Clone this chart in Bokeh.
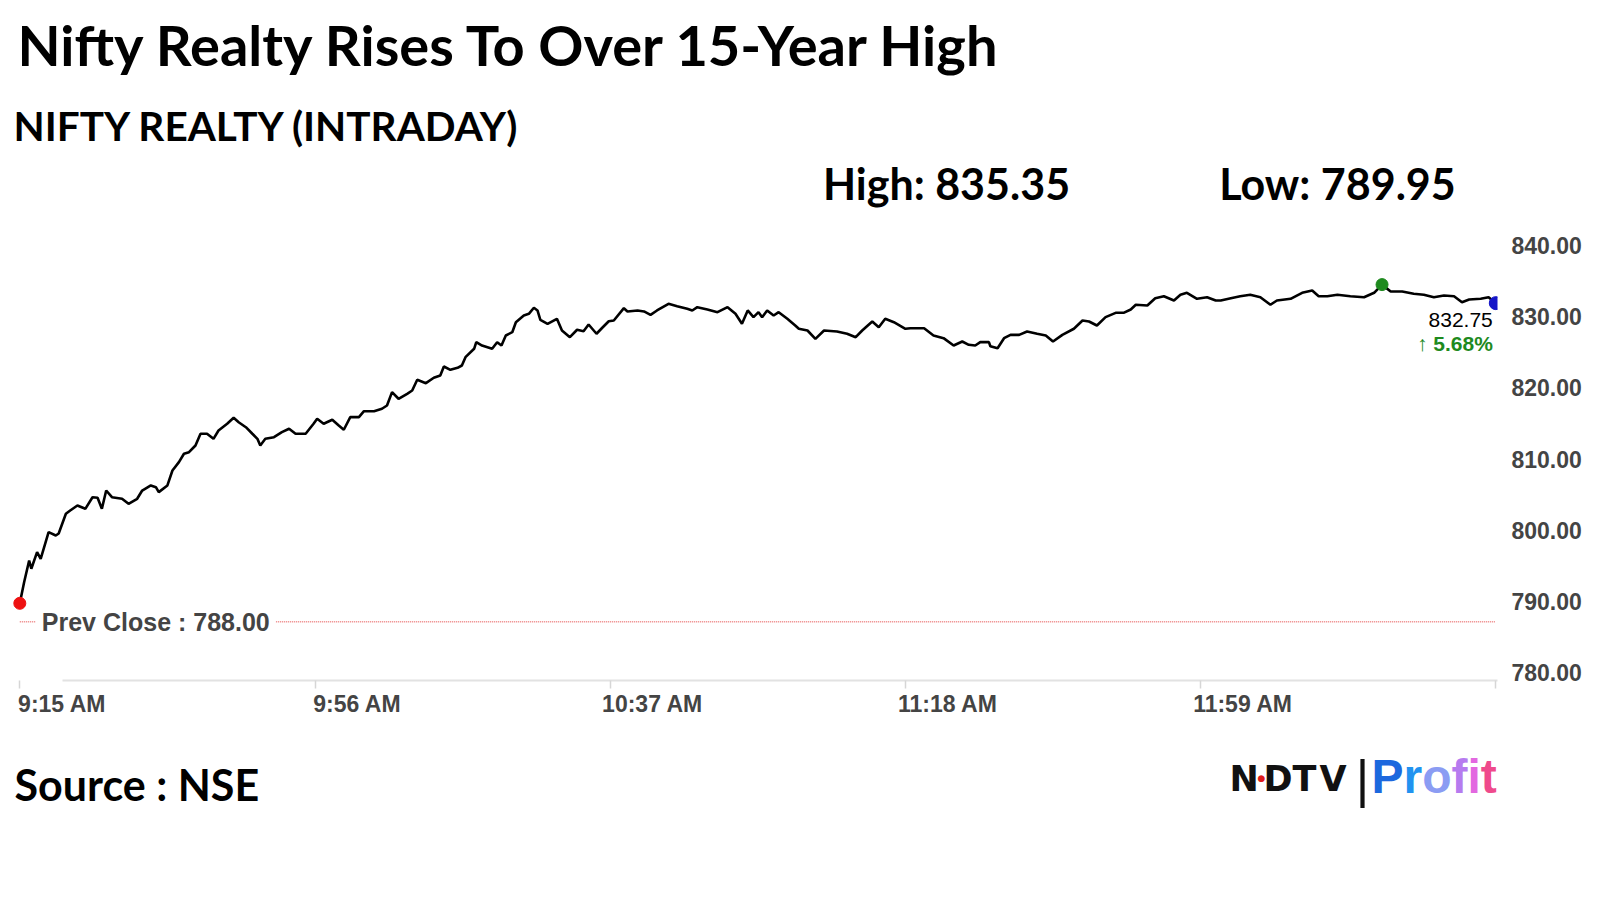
from bokeh.plotting import figure
from bokeh.layouts import column
from bokeh.models import Range1d, LinearAxis, FixedTicker, Label, NumeralTickFormatter
from bokeh.embed import file_html
from bokeh.resources import INLINE

# ---------------- data (minutes since 9:15 AM, index level) ----------------
minutes = [
    0, 0.6, 1.3, 1.6, 2.4, 2.9, 4.0, 5.0, 5.4, 6.4, 7.0, 8.0, 9.1, 10.1, 10.8, 11.4, 12.0, 12.8,
    14.2, 15.1, 16.3, 17.0, 18.2, 18.9, 19.3, 20.5, 21.2, 22.1, 22.8, 23.5, 24.4, 25.1, 26.0, 26.9,
    27.6, 28.8, 29.7, 30.4, 31.4, 32.3, 33.0, 33.4, 34.1, 35.3, 36.4, 37.4, 38.3, 39.7, 40.8,
    41.3, 42.2, 43.4, 44.3, 45.0, 45.9, 47.1, 47.8, 49.2, 50.3, 51.0, 51.7, 52.6, 53.8, 54.5, 55.2,
    56.4, 57.5, 58.4, 58.9, 59.8, 60.8, 61.4, 61.9, 63.1, 63.4, 64.2, 65.6, 66.3, 66.9, 67.5, 68.4,
    68.9, 70.0, 70.7, 71.4, 71.9, 72.3, 73.3, 74.6, 75.3, 76.4, 77.4, 78.3, 79.0, 80.1, 80.9, 81.8, 82.5,
    83.9, 84.4, 85.8, 86.7, 87.6, 88.5, 90.1, 91.3, 92.7, 93.4, 94.1, 95.5, 96.9, 98.3, 99.4, 100.3,
    101.1, 101.9, 102.6, 103.1, 103.8, 104.7, 105.4, 106.6, 107.7, 108.2, 109.4, 110.5, 111.7, 113.5,
    114.9, 116.1, 117.0, 118.4, 119.3, 120.2, 121.4, 123.0, 123.7,
    125.6, 126.9, 128.3, 129.7, 130.9, 131.8, 132.7, 133.4, 134.6, 134.8, 135.8, 136.7, 137.6, 138.8,
    139.9, 141.3, 142.5, 143.5, 144.8, 146.4, 147.6, 148.5, 149.6, 150.8, 152.2, 153.3, 154.3, 155.0,
    156.6, 157.7, 158.9, 160.3, 161.2, 162.1, 163.5, 164.9, 166.1,
    166.8, 168.2, 169.5, 170.9, 172.3, 173.7, 174.6, 176.5, 178.1, 179.5, 180.4, 181.6, 183.0, 184.8,
    186.7, 188.1, 189.2, 190.4, 192.0, 193.6, 195.0, 196.4, 197.8, 199.2, 200.3, 201.3, 202.9, 204.0, 205.0,
]
prices = [
    790.60, 793.57, 796.62, 795.45, 797.78, 796.85, 800.59, 800.13, 800.41, 803.17, 803.64, 804.34,
    803.87, 805.50, 805.42, 803.87, 806.44, 805.50, 805.28, 804.58, 805.28, 806.44, 807.15, 806.91,
    806.21, 807.15, 809.25, 810.42, 811.60, 811.82, 812.76, 814.41, 814.41, 813.70, 814.87, 815.81,
    816.65, 816.03, 815.33, 814.41, 813.70, 812.76, 813.70, 813.93, 814.63, 815.11, 814.41, 814.41, 815.81,
    816.51, 815.81, 816.37, 815.57, 814.97, 816.74, 816.74, 817.58, 817.58, 817.92, 818.38, 820.25,
    819.32, 820.02, 820.48, 821.99, 821.51, 822.27, 822.59, 823.85, 823.39, 823.67, 823.99, 825.16,
    826.34, 827.27, 826.80, 826.34, 827.27, 826.80, 828.21, 828.67, 830.07, 831.01, 831.25, 832.10,
    831.72, 830.41, 829.85, 830.55, 828.91, 827.97, 829.01, 828.81, 829.75, 828.45, 829.29, 830.21, 830.31,
    832.04, 831.58, 831.72, 831.58, 831.11, 831.72, 832.66, 832.32, 831.96, 831.72, 832.18, 831.86,
    831.48, 832.18, 831.25, 829.85, 831.72, 830.78, 831.48, 830.78, 831.72, 831.01, 831.48, 830.55,
    829.61, 829.15, 828.91, 827.74, 828.91, 828.77, 828.45, 827.97, 828.91, 830.17, 829.37, 830.55,
    830.07, 829.15, 829.23,
    829.23, 828.21, 827.83, 826.80, 827.36, 826.90, 826.80, 827.27, 827.27, 826.70, 826.42, 827.83,
    828.30, 828.30, 828.77, 828.45, 828.21, 827.36, 828.30, 829.15, 830.31, 830.17, 829.61, 830.78,
    831.39, 831.39, 831.86, 832.52, 832.42, 833.44, 833.72, 833.12, 833.92, 834.20, 833.36, 833.58, 833.12,
    833.12, 833.44, 833.72, 833.92, 833.58, 832.52, 833.12, 833.36, 834.20, 834.52, 833.72, 833.72,
    833.92, 833.72, 833.58, 834.20, 835.35, 834.38, 834.38, 834.06, 833.92, 833.58, 833.82, 833.72,
    832.88, 833.26, 833.36, 833.58, 832.75,
]
tick_minutes = [0, 41, 82, 123, 164, 205]
tick_labels = ["9:15 AM", "9:56 AM", "10:37 AM", "11:18 AM", "11:59 AM"]
price_ticks = [780, 790, 800, 810, 820, 830, 840]
prev_close = 788.00
day_high = 835.35
day_low = 789.95
last_price = prices[-1]
change_pct = (last_price - prev_close) / prev_close * 100

title_text = "Nifty Realty Rises To Over 15-Year High"
subtitle_text = "NIFTY REALTY (INTRADAY)"
source_text = "Source : NSE"

# ---------------- layout constants (page pixels) ----------------
OFF = 8
FRAME_W, FRAME_H = 1489, 672
PX_MIN = 7.2        # px per minute
PX_UNIT = 7.122     # px per index point
x_start = -(19.3 - OFF) / PX_MIN
y_end = 840 + (251 - OFF) / PX_UNIT
x_range = Range1d(x_start, x_start + FRAME_W / PX_MIN)
y_range = Range1d(y_end - FRAME_H / PX_UNIT, y_end)
FRAME_BOTTOM = OFF + FRAME_H
MAIN_H = FRAME_BOTTOM + 70
TOTAL_W = OFF + FRAME_W + 90
FOOT_H = 130

p = figure(frame_width=FRAME_W, frame_height=FRAME_H, x_range=x_range, y_range=y_range,
           output_backend="svg", toolbar_location=None, x_axis_location=None,
           y_axis_location=None, min_border_left=OFF, min_border_top=OFF,
           min_border_right=90, min_border_bottom=70)
p.xgrid.visible = False
p.ygrid.visible = False
p.outline_line_color = None
p.background_fill_color = "white"
p.border_fill_color = "white"

# right price axis (labels sit slightly above their level)
lab_shift_y = 6.0 / PX_UNIT
p.extra_y_ranges = {"ylab": Range1d(y_range.start - lab_shift_y, y_range.end - lab_shift_y)}
yax = LinearAxis(y_range_name="ylab", ticker=FixedTicker(ticks=price_ticks),
                 formatter=NumeralTickFormatter(format="0.00"),
                 axis_line_color=None, major_tick_line_color=None, minor_tick_line_color=None,
                 major_tick_out=0, major_tick_in=0, major_label_standoff=14,
                 major_label_text_font="Liberation Sans", major_label_text_font_style="bold",
                 major_label_text_font_size="23px", major_label_text_color="#444444")
p.add_layout(yax, "right")

# time axis: ticks + line
lab_shift_x = 42.4 / PX_MIN
xa = LinearAxis(ticker=FixedTicker(ticks=tick_minutes), bounds=(lab_shift_x, x_range.end),
                major_label_overrides={t: "" for t in tick_minutes},
                axis_line_color="#e2e2e2", axis_line_width=2,
                major_tick_line_color="#d6d6d6", major_tick_line_width=1.5,
                major_tick_out=8, major_tick_in=0, minor_tick_line_color=None,
                major_label_standoff=0, major_label_text_font_size="10px")
p.add_layout(xa, "below")
# time axis labels
p.extra_x_ranges = {"xlab": Range1d(x_range.start - lab_shift_x, x_range.end - lab_shift_x)}
xb = LinearAxis(x_range_name="xlab", ticker=FixedTicker(ticks=tick_minutes[:-1]),
                major_label_overrides=dict(zip(tick_minutes[:-1], tick_labels)),
                axis_line_color=None, major_tick_line_color=None, minor_tick_line_color=None,
                major_tick_out=0, major_tick_in=0, major_label_standoff=2,
                major_label_text_font="Liberation Sans", major_label_text_font_style="bold",
                major_label_text_font_size="23px", major_label_text_color="#444444")
p.add_layout(xb, "below")

# previous close dotted line
p.line(x=[minutes[0], minutes[-1]], y=[prev_close, prev_close], line_color="#e23b3b",
       line_width=1, line_dash="1 1")
p.add_layout(Label(x=minutes[0], y=prev_close, x_offset=16, text=f"Prev Close : {prev_close:.2f}",
                   text_font="Liberation Sans", text_font_style="bold", text_font_size="25px",
                   text_color="#444444", text_baseline="middle", text_align="left",
                   background_fill_color="white", padding=6))

# price line
p.line(minutes, prices, line_color="black", line_width=2.6)

# markers
hi_i = prices.index(max(prices))
p.scatter([minutes[0]], [prices[0]], size=12, color="#ee1111")
p.scatter([minutes[hi_i]], [prices[hi_i]], size=12, color="#1e8a1e")
p.scatter([minutes[-1]], [prices[-1]], size=13, color="#1515c8")

p.add_layout(Label(x=minutes[-1], y=last_price, x_offset=-3, y_offset=-16.5,
                   text=f"{last_price:.2f}", text_font="Liberation Sans", text_font_size="21px",
                   text_color="black", text_align="right", text_baseline="middle"))
p.add_layout(Label(x=minutes[-1], y=last_price, x_offset=-3, y_offset=-40,
                   text=f"\u2191 {change_pct:.2f}%", text_font="Liberation Sans",
                   text_font_style="bold", text_font_size="21px",
                   text_color="#1e8a1e", text_align="right", text_baseline="middle"))


def add_text(fig, bottom, text, X, Y, size, font="Lato", style="bold", color="black", align="left"):
    # X, Y are page pixels; both figures' frames start at page x = OFF
    fig.add_layout(Label(x=X - OFF, y=bottom - Y, x_units="screen",
                         y_units="screen", text=text, text_font=font, text_font_style=style,
                         text_font_size=f"{size}px", text_color=color,
                         text_align=align, text_baseline="middle"))


add_text(p, FRAME_BOTTOM, title_text, 17, 44, 56)
add_text(p, FRAME_BOTTOM, subtitle_text, 13, 125, 40.5)
add_text(p, FRAME_BOTTOM, f"High: {day_high:.2f}", 946, 183, 43, align="center")
add_text(p, FRAME_BOTTOM, f"Low: {day_low:.2f}", 1337, 183, 43, align="center")

# ---------------- footer figure (source + logo) ----------------
f = figure(width=TOTAL_W, height=FOOT_H, x_range=Range1d(0, 1), y_range=Range1d(0, 1),
           output_backend="svg", toolbar_location=None, x_axis_location=None,
           y_axis_location=None, min_border=0)
f.xgrid.visible = False
f.ygrid.visible = False
f.outline_line_color = None
f.background_fill_color = "white"
f.border_fill_color = "white"
FOOT_BOTTOM = MAIN_H + FOOT_H

add_text(f, FOOT_BOTTOM, source_text, 14, 784, 43)
ndtv_x = [1229, 1263, 1292, 1319]
for ch, X in zip("NDTV", ndtv_x):
    add_text(f, FOOT_BOTTOM, ch, X, 778, 35, font="DejaVu Sans", color="#111111")
add_text(f, FOOT_BOTTOM, "\u25CF", 1261, 777, 9, font="DejaVu Sans", style="normal",
         color="#e01b1b", align="center")
add_text(f, FOOT_BOTTOM, "|", 1362, 778, 52, font="Liberation Sans", style="normal",
         color="#111111", align="center")
profit_colors = ["#1c68de", "#2193f0", "#8b9cf3", "#b67bef", "#e268e0", "#ef4a8c"]
profit_widths = [0.667, 0.389, 0.611, 0.333, 0.278, 0.333]
px = 1371
for ch, col, w in zip("Profit", profit_colors, profit_widths):
    add_text(f, FOOT_BOTTOM, ch, px, 776, 48, font="Liberation Sans", color=col)
    px += w * 48

open("out.html", "w").write(file_html(column(p, f, spacing=0), INLINE))
